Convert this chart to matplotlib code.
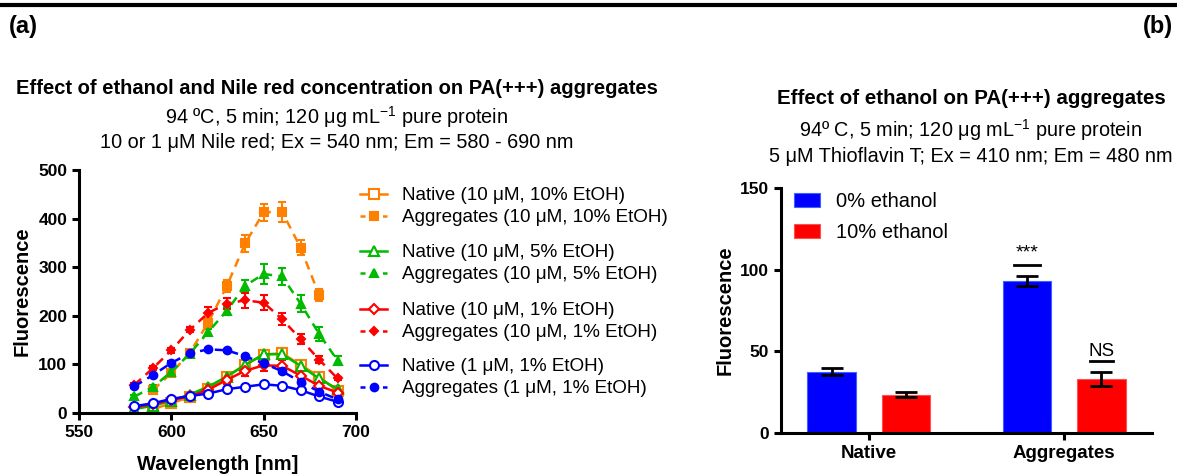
import matplotlib.pyplot as plt
from matplotlib.lines import Line2D

plt.rcParams['font.family'] = ['Liberation Sans', 'DejaVu Sans']
plt.rcParams['mathtext.fontset'] = 'custom'
plt.rcParams['mathtext.rm'] = 'Liberation Sans'
plt.rcParams['mathtext.it'] = 'Liberation Sans:italic'
plt.rcParams['mathtext.bf'] = 'Liberation Sans:bold'

# ---- (a) Nile red emission spectra ----
wl = [580, 590, 600, 610, 620, 630, 640, 650, 660, 670, 680, 690]
wl_orange_nat = [590, 600, 610, 620, 630, 640, 650, 660, 670, 680, 690]
wl_orange_agg = [590, 600, 610, 620, 630, 640, 650, 660, 670, 680]

orange_nat = [8, 20, 33, 50, 75, 99, 120, 123, 99, 75, 45]
orange_nat_err = [3, 3, 4, 5, 6, 8, 10, 10, 8, 6, 5]
orange_agg = [47, 82, 124, 186, 261, 349, 413, 414, 340, 243]
orange_agg_err = [5, 5, 6, 10, 12, 18, 18, 20, 15, 12]

green_nat = [8, 15, 25, 38, 54, 75, 99, 121, 121, 97, 71, 49]
green_nat_err = [3, 3, 3, 4, 5, 6, 8, 8, 8, 6, 5, 4]
green_agg = [34, 53, 85, 122, 167, 210, 262, 286, 281, 225, 163, 108]
green_agg_err = [3, 4, 5, 5, 6, 8, 12, 20, 18, 18, 14, 10]

red_nat = [12, 18, 27, 34, 48, 68, 87, 98, 97, 77, 56, 42]
red_nat_err = [3, 3, 3, 4, 5, 8, 10, 12, 12, 10, 6, 4]
red_agg = [58, 92, 129, 171, 206, 225, 232, 227, 193, 152, 110, 71]
red_agg_err = [3, 4, 5, 5, 12, 12, 15, 15, 12, 10, 8, 4]

blue_nat = [14, 20, 29, 35, 40, 49, 54, 59, 56, 47, 34, 23]
blue_nat_err = [2, 2, 2, 3, 3, 3, 3, 3, 3, 3, 3, 2]
blue_agg = [55, 78, 103, 123, 131, 129, 117, 102, 86, 64, 44, 28]
blue_agg_err = [3, 3, 3, 3, 3, 3, 3, 3, 3, 3, 3, 3]

# ---- (b) Thioflavin T bars ----
groups = ['Native', 'Aggregates']
eth0 = [37.5, 93]
eth0_err = [2.1, 3.3]
eth10 = [23.5, 33]
eth10_err = [1.6, 4.1]

orange = '#ff8000'
green = '#00bb00'
red = '#ff0000'
blue = '#0000ff'

W, H = 1177, 474
fig = plt.figure(figsize=(W / 100, H / 100), dpi=100)

def fx(px):
    return px / W

def fy(py):
    return 1 - py / H

# header line and panel letters
fig.add_artist(Line2D([0, 1], [fy(5), fy(5)], color='black', lw=3, transform=fig.transFigure))
fig.text(fx(9), fy(26), '(a)', fontsize=17, fontweight='bold', ha='left', va='center')
fig.text(fx(1173), fy(26), '(b)', fontsize=17, fontweight='bold', ha='right', va='center')

# titles
fig.text(fx(337), fy(89), 'Effect of ethanol and Nile red concentration on PA(+++) aggregates',
         fontsize=14.5, fontweight='bold', ha='center', va='center')
fig.text(fx(337), fy(117), '94 ºC, 5 min; 120 μg mL$^{-1}$ pure protein',
         fontsize=14.3, ha='center', va='center')
fig.text(fx(337), fy(143), '10 or 1 μM Nile red; Ex = 540 nm; Em = 580 - 690 nm',
         fontsize=14.3, ha='center', va='center')

fig.text(fx(971), fy(98), 'Effect of ethanol on PA(+++) aggregates',
         fontsize=14.8, fontweight='bold', ha='center', va='center')
fig.text(fx(971), fy(130), '94º C, 5 min; 120 μg mL$^{-1}$ pure protein',
         fontsize=14.3, ha='center', va='center')
fig.text(fx(971), fy(156), '5 μM Thioflavin T; Ex = 410 nm; Em = 480 nm',
         fontsize=14.3, ha='center', va='center')

# ---------------- panel (a) ----------------
ax1 = fig.add_axes([fx(79), fy(413), fx(356 - 79), (413 - 170) / H])

series = [
    (wl_orange_nat, orange_nat, orange_nat_err, orange, 's', 'none', '-', 'Native (10 μM, 10% EtOH)'),
    (wl_orange_agg, orange_agg, orange_agg_err, orange, 's', orange, '--', 'Aggregates (10 μM, 10% EtOH)'),
    (wl, green_nat, green_nat_err, green, '^', 'none', '-', 'Native (10 μM, 5% EtOH)'),
    (wl, green_agg, green_agg_err, green, '^', green, '--', 'Aggregates (10 μM, 5% EtOH)'),
    (wl, red_nat, red_nat_err, red, 'D', 'none', '-', 'Native (10 μM, 1% EtOH)'),
    (wl, red_agg, red_agg_err, red, 'D', red, '--', 'Aggregates (10 μM, 1% EtOH)'),
    (wl, blue_nat, blue_nat_err, blue, 'o', 'none', '-', 'Native (1 μM, 1% EtOH)'),
    (wl, blue_agg, blue_agg_err, blue, 'o', blue, '--', 'Aggregates (1 μM, 1% EtOH)'),
]

handles = []
for x, y, e, c, m, mfc, ls, lab in series:
    ms = 5 if m == 'D' else 6.5
    if m == '^':
        ms = 7
    if mfc != 'none':
        ms -= 1
    face = mfc if mfc != 'none' else 'white'
    eb = ax1.errorbar(x, y, yerr=e, color=c, marker=m, mfc=face, mec=c, mew=1.5, ms=ms,
                      ls=ls, lw=1.8, capsize=3, elinewidth=1.5, capthick=1.5)
    if ls == '--':
        eb[0].set_dashes((3.5, 2.5))
    h = Line2D([], [], color=c, marker=m, mfc=face, mec=c, mew=1.5, ms=ms, lw=1.8, ls=ls)
    if ls == '--':
        h.set_dashes((2, 2.5))
    handles.append((h, lab))

ax1.set_xlim(550, 700)
ax1.set_ylim(0, 500)
ax1.set_xticks([550, 600, 650, 700])
ax1.set_yticks([0, 100, 200, 300, 400, 500])
for s in ['top', 'right']:
    ax1.spines[s].set_visible(False)
for s in ['left', 'bottom']:
    ax1.spines[s].set_linewidth(2.2)
ax1.tick_params(width=2.2, length=5, labelsize=12.5)
for lbl in ax1.get_xticklabels() + ax1.get_yticklabels():
    lbl.set_fontweight('bold')
ax1.set_xlabel('Wavelength [nm]', fontsize=14.5, fontweight='bold', labelpad=11)
ax1.set_ylabel('Fluorescence', fontsize=14.5, fontweight='bold', labelpad=5)

# grouped legend: four pairs
row_tops = [187, 244, 302, 358]
for i, top in enumerate(row_tops):
    pair = handles[2 * i:2 * i + 2]
    fig.legend([p[0] for p in pair], [p[1] for p in pair], loc='upper left',
               bbox_to_anchor=(fx(360), fy(top)), bbox_transform=fig.transFigure,
               frameon=False, fontsize=13.6, borderpad=0, borderaxespad=0,
               handlelength=1.45, handletextpad=0.75, labelspacing=0.25)

# ---------------- panel (b) ----------------
ax2 = fig.add_axes([fx(781), fy(433), fx(1152 - 781), (433 - 188) / H])
pos = [0, 1]
off = 0.19
bw = 0.25
ax2.bar([p - off for p in pos], eth0, width=bw, color=blue, edgecolor='#4060ff', lw=0.8,
        label='0% ethanol')
ax2.bar([p + off for p in pos], eth10, width=bw, color=red, edgecolor='#ff5050', lw=0.8,
        label='10% ethanol')
ax2.errorbar([p - off for p in pos], eth0, yerr=eth0_err, fmt='none', ecolor='black',
             elinewidth=2, capsize=8, capthick=2)
ax2.errorbar([p + off for p in pos], eth10, yerr=eth10_err, fmt='none', ecolor='black',
             elinewidth=2, capsize=8, capthick=2)

# significance marks
xs = pos[1] - off
ax2.plot([xs - 0.065, xs + 0.065], [103, 103], color='black', lw=2)
ax2.text(xs, 110.5, '***', ha='center', va='center', fontsize=14)
xn = pos[1] + off
ax2.plot([xn - 0.06, xn + 0.06], [44.3, 44.3], color='black', lw=2)
ax2.text(xn, 50, 'NS', ha='center', va='center', fontsize=13.5)

ax2.set_xlim(-0.45, 1.45)
ax2.set_ylim(0, 150)
ax2.set_yticks([0, 50, 100, 150])
ax2.set_xticks(pos)
ax2.set_xticklabels(groups)
for s in ['top', 'right']:
    ax2.spines[s].set_visible(False)
for s in ['left', 'bottom']:
    ax2.spines[s].set_linewidth(2.2)
ax2.tick_params(width=2.2, length=5, labelsize=12.5)
ax2.tick_params(axis='x', labelsize=13.5)
for lbl in ax2.get_xticklabels() + ax2.get_yticklabels():
    lbl.set_fontweight('bold')
ax2.set_ylabel('Fluorescence', fontsize=14.5, fontweight='bold', labelpad=4)
ax2.legend(loc='upper left', bbox_to_anchor=(0.008, 1.025), frameon=False, fontsize=14.5,
           handlelength=1.3, handleheight=0.7, handletextpad=0.8, labelspacing=0.6,
           borderpad=0)

fig.savefig('out.png', dpi=100)
